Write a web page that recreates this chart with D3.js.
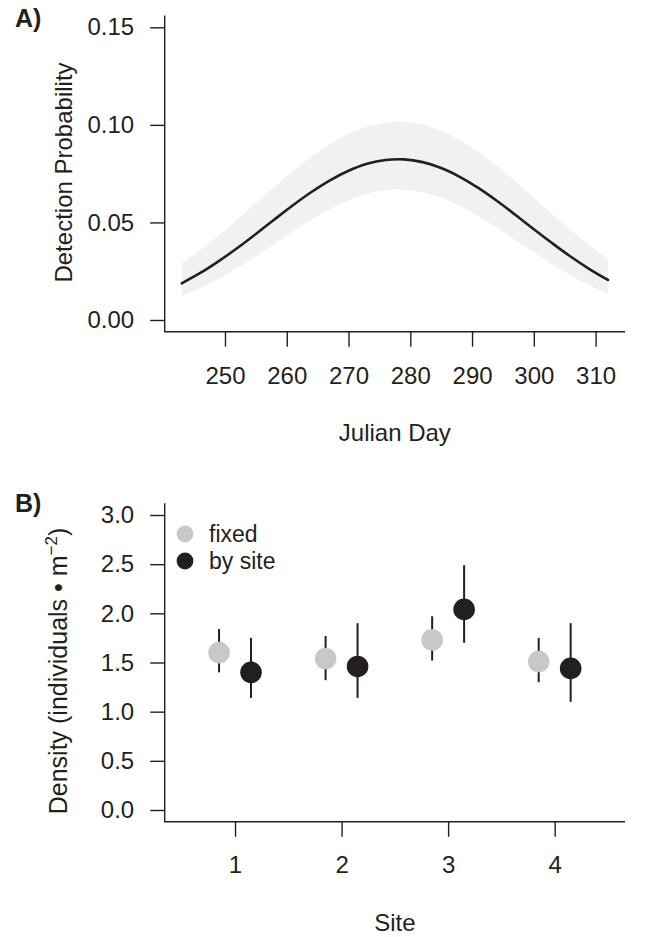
<!DOCTYPE html>
<html>
<head>
<meta charset="utf-8">
<script src="https://cdn.jsdelivr.net/npm/d3@7/dist/d3.min.js"></script>
<style>
  html, body { margin: 0; padding: 0; background: #fff; }
  svg { display: block; font-family: "Liberation Sans", Arial, Helvetica, sans-serif; }
  text { fill: #231f20; }
</style>
</head>
<body>
<svg id="chart" width="646" height="937"></svg>
<script>
// ---------- Panel A data ----------
const days = [243,246,249,252,255,258,261,264,267,270,273,276,279,282,285,288,291,294,297,300,303,306,309,312];
const detMean = [0.0188,0.0241,0.0302,0.0369,0.0441,0.0515,0.0588,0.0656,0.0716,0.0765,0.0801,0.0820,0.0823,0.0809,0.0779,0.0734,0.0677,0.0611,0.0539,0.0465,0.0393,0.0324,0.0261,0.0205];
const detUpper = [0.0290,0.0359,0.0434,0.0515,0.0598,0.0682,0.0763,0.0837,0.0902,0.0954,0.0991,0.1012,0.1015,0.1000,0.0968,0.0921,0.0860,0.0789,0.0710,0.0626,0.0542,0.0460,0.0383,0.0312];
const detLower = [0.0123,0.0163,0.0211,0.0266,0.0326,0.0389,0.0453,0.0514,0.0569,0.0614,0.0647,0.0666,0.0668,0.0655,0.0627,0.0585,0.0533,0.0474,0.0410,0.0347,0.0285,0.0228,0.0178,0.0135];
const yTicksA = [0, 0.05, 0.10, 0.15];
const xTicksA = [250, 260, 270, 280, 290, 300, 310];

// ---------- Panel B data ----------
const sites = [1, 2, 3, 4];
const seriesNames = ["fixed", "by site"];
const fixedEst = [1.60, 1.54, 1.73, 1.51];
const fixedLo  = [1.40, 1.32, 1.52, 1.30];
const fixedHi  = [1.84, 1.77, 1.97, 1.75];
const siteEst  = [1.40, 1.46, 2.04, 1.44];
const siteLo   = [1.14, 1.14, 1.70, 1.10];
const siteHi   = [1.75, 1.90, 2.49, 1.90];
const yTicksB = [0.0, 0.5, 1.0, 1.5, 2.0, 2.5, 3.0];

const ink = "#231f20";
const grayPt = "#c7c8ca";
const bandFill = "#f0f1f2";
const FS = 24;

const svg = d3.select("#chart");

// shared horizontal plot region
const plotLeft = 164.7, plotRight = 625;

function drawFrame(g, x, y) {
  const [x0, x1] = x.range();
  const [yb, yt] = y.range();
  g.append("path")
    .attr("d", `M${x0},${yt}V${yb}H${x1}`)
    .attr("fill", "none").attr("stroke", ink).attr("stroke-width", 1.4);
}

function styleAxis(a) {
  a.select(".domain").remove();
  a.selectAll(".tick line").attr("stroke", ink).attr("stroke-width", 1.4);
  a.selectAll(".tick text").attr("font-size", FS).style("fill", ink)
   .attr("font-family", '"Liberation Sans", Arial, sans-serif');
}

// ================= Panel A =================
const xA = d3.scaleLinear().domain([240.24, 314.76]).range([plotLeft, plotRight]);
const yA = d3.scaleLinear().domain([-0.006, 0.156]).range([331.7, 15.6]);
const gA = svg.append("g");

const rowsA = days.map((d, i) => ({d, m: detMean[i], lo: detLower[i], hi: detUpper[i]}));

gA.append("path")
  .datum(rowsA)
  .attr("fill", bandFill)
  .attr("d", d3.area().x(r => xA(r.d)).y0(r => yA(r.lo)).y1(r => yA(r.hi)).curve(d3.curveCatmullRom));

gA.append("path")
  .datum(rowsA)
  .attr("fill", "none").attr("stroke", ink).attr("stroke-width", 2.6)
  .attr("stroke-linecap", "round")
  .attr("d", d3.line().x(r => xA(r.d)).y(r => yA(r.m)).curve(d3.curveCatmullRom));

drawFrame(gA, xA, yA);

const axYA = gA.append("g").attr("transform", `translate(${plotLeft - 0.5},0)`)
  .call(d3.axisLeft(yA).tickValues(yTicksA).tickFormat(d3.format(".2f")).tickSize(14).tickPadding(16));
const axXA = gA.append("g").attr("transform", `translate(0,${331.7})`)
  .call(d3.axisBottom(xA).tickValues(xTicksA).tickFormat(d3.format("d")).tickSize(15).tickPadding(20));
styleAxis(axYA); styleAxis(axXA);

gA.append("text").attr("x", (plotLeft + plotRight) / 2).attr("y", 441)
  .attr("text-anchor", "middle").attr("font-size", FS).text("Julian Day");
gA.append("text").attr("transform", "translate(72,172.5) rotate(-90)")
  .attr("text-anchor", "middle").attr("font-size", FS).text("Detection Probability");
gA.append("text").attr("x", 15).attr("y", 27).attr("font-size", 25).attr("font-weight", "bold").text("A)");

// ================= Panel B =================
const xB = d3.scaleLinear().domain([0.34, 4.66]).range([plotLeft, plotRight]);
const yB = d3.scaleLinear().domain([-0.12, 3.12]).range([821.8, 503.2]);
const gB = svg.append("g");

const offset = 0.15;
const seriesB = [
  {name: seriesNames[0], est: fixedEst, lo: fixedLo, hi: fixedHi, dx: -offset, fill: grayPt},
  {name: seriesNames[1], est: siteEst, lo: siteLo, hi: siteHi, dx: offset, fill: ink}
];

seriesB.forEach(s => {
  const pts = sites.map((site, i) => ({x: site + s.dx, est: s.est[i], lo: s.lo[i], hi: s.hi[i]}));
  gB.selectAll(null).data(pts).enter().append("line")
    .attr("x1", p => xB(p.x)).attr("x2", p => xB(p.x))
    .attr("y1", p => yB(p.lo)).attr("y2", p => yB(p.hi))
    .attr("stroke", ink).attr("stroke-width", 2);
  gB.selectAll(null).data(pts).enter().append("circle")
    .attr("cx", p => xB(p.x)).attr("cy", p => yB(p.est)).attr("r", 10.8)
    .attr("fill", s.fill);
});

drawFrame(gB, xB, yB);

const axYB = gB.append("g").attr("transform", `translate(${plotLeft - 0.5},0)`)
  .call(d3.axisLeft(yB).tickValues(yTicksB).tickFormat(d3.format(".1f")).tickSize(14).tickPadding(16));
const axXB = gB.append("g").attr("transform", `translate(0,${821.8})`)
  .call(d3.axisBottom(xB).tickValues(sites).tickFormat(d3.format("d")).tickSize(15).tickPadding(19));
styleAxis(axYB); styleAxis(axXB);

// legend
const legend = gB.append("g");
seriesB.forEach((s, i) => {
  const ly = 534 + i * 27;
  legend.append("circle").attr("cx", 185).attr("cy", ly).attr("r", 8.4).attr("fill", s.fill);
  legend.append("text").attr("x", 209).attr("y", ly + 8).attr("font-size", 23).text(s.name);
});

gB.append("text").attr("x", (plotLeft + plotRight) / 2).attr("y", 931)
  .attr("text-anchor", "middle").attr("font-size", FS).text("Site");

const yt = gB.append("text").attr("transform", "translate(67,671) rotate(-90)")
  .attr("text-anchor", "middle").attr("font-size", 25);
yt.append("tspan").text("Density (individuals \u2022 m");
yt.append("tspan").attr("font-size", 17).attr("dy", -10).text("\u22122");
yt.append("tspan").attr("dy", 10).text(")");

gB.append("text").attr("x", 15).attr("y", 512).attr("font-size", 25).attr("font-weight", "bold").text("B)");
</script>
</body>
</html>
